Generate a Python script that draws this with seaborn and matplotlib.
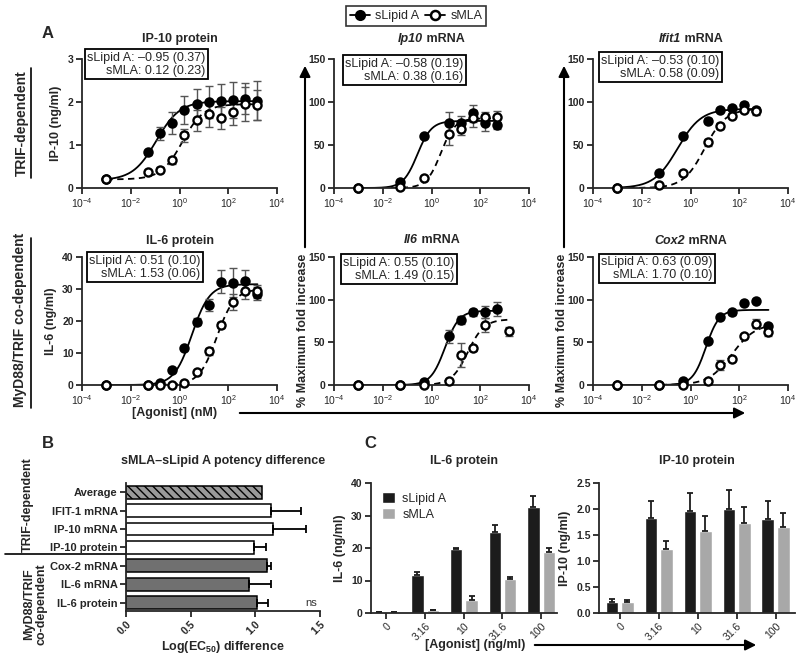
import numpy as np
import pandas as pd
import matplotlib
matplotlib.use("Agg")
import matplotlib.pyplot as plt
import seaborn as sns
from matplotlib.lines import Line2D
from matplotlib.patches import Patch, FancyArrowPatch
from matplotlib.offsetbox import TextArea, HPacker, AnchoredOffsetbox

# ---- data -------------------------------------------------------------
# doses in nM; the first entry is the untreated sample shown at 10^-3
dose_protein = [0.001, 0.05, 0.158, 0.5, 1.58, 5, 15.8, 50, 158, 500, 1580]
dose_mrna = [0.001, 0.05, 0.5, 5, 15.8, 50, 158, 500, 1580]

# A, IP-10 protein (ng/ml)
ip10p_lipid = [0.2, 0.83, 1.27, 1.51, 1.82, 1.96, 2.0, 2.02, 2.04, 2.08, 2.03]
ip10p_lipid_err = [0.02, 0.06, 0.15, 0.25, 0.33, 0.35, 0.37, 0.4, 0.42, 0.37, 0.45]
ip10p_mla = [0.2, 0.38, 0.43, 0.64, 1.23, 1.57, 1.72, 1.63, 1.77, 1.96, 1.94]
ip10p_mla_err = [0.02, 0.04, 0.05, 0.08, 0.15, 0.25, 0.3, 0.25, 0.3, 0.4, 0.35]

# A, Ip10 mRNA (% max)
ip10m_lipid = [0, 6.5, 60, 76, 76, 87, 76, 73, np.nan]
ip10m_lipid_err = [0, 2, 2, 12, 8, 10, 10, 4, np.nan]
ip10m_mla = [0, 1, 12, 63, 69, 81, 83, 83, np.nan]
ip10m_mla_err = [0, 1, 2, 13, 7, 10, 5, 7, np.nan]

# A, Ifit1 mRNA (% max)
ifit1_lipid = [0, 17, 61, 78, 91, 93, 97, 91, np.nan]
ifit1_lipid_err = [0, 2, 3, 3, 2, 2, 3, 3, np.nan]
ifit1_mla = [0, 3, 18, 53, 72, 84, 91, 89, np.nan]
ifit1_mla_err = [0, 1, 2, 4, 3, 3, 3, 4, np.nan]

# A, IL-6 protein (ng/ml)
il6p_lipid = [0, 0, 0.7, 4.8, 11.5, 19.8, 25, 32.3, 32, 32.5, 28.5]
il6p_lipid_err = [0, 0, 0.3, 0.5, 0.5, 1, 2, 3.5, 4.5, 3.5, 2]
il6p_mla = [0, 0, 0, 0, 0.7, 4, 10.5, 18.8, 26, 29.4, 29.3]
il6p_mla_err = [0, 0, 0, 0, 0.3, 0.5, 1, 1, 2.5, 2.5, 2]

# A, Il6 mRNA (% max)
il6m_lipid = [0, 0, 4, 57, 76, 85, 85, 89, np.nan]
il6m_lipid_err = [0, 0, 1, 8, 5, 4, 7, 8, np.nan]
il6m_mla = [0, 0, 0, 5, 35, 43, 70, np.nan, 63]
il6m_mla_err = [0, 0, 0, 1, 14, 3, 8, np.nan, 5]

# A, Cox2 mRNA (% max)
cox2_lipid = [0, 0, 5, 52, 80, 85, 96, 99, 69]
cox2_lipid_err = [0, 0, 1, 2, 2, 3, 2, 2, 2]
cox2_mla = [0, 0, 0, 5, 23, 31, 57, 72, 62]
cox2_mla_err = [0, 0, 0, 1, 6, 2, 2, 5, 4]

# four-parameter fits: bottom, top, logEC50, hill
ip10p_fit = [[0.18, 2.02, -0.95, 0.9], [0.2, 1.95, 0.12, 1.0]]
ip10m_fit = [[0, 78, -0.58, 1.5], [0, 81, 0.38, 1.5]]
ifit1_fit = [[0, 92, -0.53, 0.9], [0, 92, 0.58, 1.0]]
il6p_fit = [[0, 31.5, 0.51, 1.2], [0, 30, 1.53, 1.2]]
il6m_fit = [[0, 87, 0.55, 1.5], [0, 77, 1.49, 1.3]]
cox2_fit = [[0, 88, 0.63, 1.6], [0, 72, 1.70, 0.9]]

ec50_labels = [
    "sLipid A: \u20130.95 (0.37)\nsMLA: 0.12 (0.23)",
    "sLipid A: \u20130.58 (0.19)\nsMLA: 0.38 (0.16)",
    "sLipid A: \u20130.53 (0.10)\nsMLA: 0.58 (0.09)",
    "sLipid A: 0.51 (0.10)\nsMLA: 1.53 (0.06)",
    "sLipid A: 0.55 (0.10)\nsMLA: 1.49 (0.15)",
    "sLipid A: 0.63 (0.09)\nsMLA: 1.70 (0.10)",
]

# B, potency difference
potency_names = ["Average", "IFIT-1 mRNA", "IP-10 mRNA", "IP-10 protein",
                 "Cox-2 mRNA", "IL-6 mRNA", "IL-6 protein"]
potency_diff = [1.05, 1.12, 1.14, 0.99, 1.09, 0.95, 1.01]
potency_err = [np.nan, 0.23, 0.25, 0.09, 0.03, 0.17, 0.09]

# C, single doses (ng/ml)
dose_c = ["0", "3.16", "10", "31.6", "100"]
il6c_lipid = [0.2, 11.6, 19.8, 25.0, 32.5]
il6c_lipid_err = [0.05, 0.9, 0.3, 2.0, 3.4]
il6c_mla = [0.2, 0.8, 4.1, 10.6, 18.9]
il6c_mla_err = [0.05, 0.2, 1.2, 0.5, 1.0]
ip10c_lipid = [0.21, 1.83, 1.97, 2.0, 1.81]
ip10c_lipid_err = [0.05, 0.32, 0.33, 0.37, 0.35]
ip10c_mla = [0.21, 1.24, 1.58, 1.73, 1.66]
ip10c_mla_err = [0.04, 0.15, 0.28, 0.3, 0.27]

# ---- style ------------------------------------------------------------
sns.set_theme(style="ticks")
plt.rcParams["font.family"] = ["Liberation Sans", "DejaVu Sans"]
plt.rcParams.update({
    "axes.linewidth": 1.3,
    "xtick.major.width": 1.3, "ytick.major.width": 1.3,
    "xtick.major.size": 4, "ytick.major.size": 4,
    "xtick.major.pad": 2, "ytick.major.pad": 2,
    "xtick.labelsize": 7.5, "ytick.labelsize": 7.5,
    "mathtext.default": "regular",
})

W, H = 800, 658
fig = plt.figure(figsize=(8, 6.58), dpi=100)


def add_ax(left, top, right, bottom):
    return fig.add_axes([left / W, 1 - bottom / H, (right - left) / W, (bottom - top) / H])


def logistic(lx, p):
    bottom, top, logec, hill = p
    return bottom + (top - bottom) / (1 + 10 ** ((logec - lx) * hill))


def title_parts(ax, parts, y_px):
    boxes = [TextArea(t, textprops=dict(fontweight="bold", fontstyle=s, fontsize=9)) for t, s in parts]
    pack = HPacker(children=boxes, align="baseline", pad=0, sep=0)
    x0 = ax.get_position().x0 + ax.get_position().width / 2
    box = AnchoredOffsetbox(loc="lower center", child=pack, pad=0, borderpad=0, frameon=False,
                            bbox_to_anchor=(x0, 1 - y_px / H), bbox_transform=fig.transFigure)
    fig.add_artist(box)


def dose_panel(ax, doses, lipid, lipid_err, mla, mla_err, fits, ymax, ystep):
    ax.set_xscale("log")
    series = [(lipid, lipid_err, fits[0], "black", "-"),
              (mla, mla_err, fits[1], "white", (0, (3.5, 2.5)))]
    frames = []
    for vals, errs, fit, face, ls in series:
        d = pd.DataFrame({"dose": doses, "resp": vals, "err": errs}).dropna()
        lx = np.linspace(np.log10(d.dose.min()), np.log10(d.dose.max()), 200)
        curve = pd.DataFrame({"dose": 10 ** lx, "resp": logistic(lx, fit)})
        sns.lineplot(data=curve, x="dose", y="resp", color="black", lw=1.3,
                     linestyle=ls, ax=ax, zorder=2)
        frames.append((d, face))
    for d, face in frames:
        ax.errorbar(d.dose, d.resp, yerr=d.err, fmt="none", ecolor="#555555",
                    elinewidth=1, capsize=3, capthick=1, zorder=3)
    for d, face in frames:
        sns.scatterplot(data=d, x="dose", y="resp", color=face, edgecolor="black",
                        linewidth=1.7, s=34, ax=ax, zorder=4, clip_on=False)
    ax.set_xlim(1e-4, 1e4)
    ax.set_xticks([1e-4, 1e-2, 1, 1e2, 1e4])
    ax.xaxis.set_minor_locator(matplotlib.ticker.NullLocator())
    ax.set_ylim(0, ymax)
    ax.set_yticks(np.arange(0, ymax + ystep / 2, ystep))
    for lab in ax.get_yticklabels():
        lab.set_fontweight("bold")
    ax.set_xlabel("")
    ax.set_ylabel("")
    sns.despine(ax=ax)


# ---- panel A ----------------------------------------------------------
col_left = [82, 334, 593]
row_tb = [(59, 188), (257, 385)]
panels = [
    (dose_protein, ip10p_lipid, ip10p_lipid_err, ip10p_mla, ip10p_mla_err, ip10p_fit, 3, 1),
    (dose_mrna, ip10m_lipid, ip10m_lipid_err, ip10m_mla, ip10m_mla_err, ip10m_fit, 150, 50),
    (dose_mrna, ifit1_lipid, ifit1_lipid_err, ifit1_mla, ifit1_mla_err, ifit1_fit, 150, 50),
    (dose_protein, il6p_lipid, il6p_lipid_err, il6p_mla, il6p_mla_err, il6p_fit, 40, 10),
    (dose_mrna, il6m_lipid, il6m_lipid_err, il6m_mla, il6m_mla_err, il6m_fit, 150, 50),
    (dose_mrna, cox2_lipid, cox2_lipid_err, cox2_mla, cox2_mla_err, cox2_fit, 150, 50),
]
titles = [
    [("IP-10 protein", "normal")],
    [("Ip10", "italic"), (" mRNA", "normal")],
    [("Ifit1", "italic"), (" mRNA", "normal")],
    [("IL-6 protein", "normal")],
    [("Il6", "italic"), (" mRNA", "normal")],
    [("Cox2", "italic"), (" mRNA", "normal")],
]
title_y = [45, 45, 45, 247, 246, 247]
box_pos = [(84, 49), (342, 55), (598, 52), (86, 252), (340, 254), (598, 253)]

axes_a = []
for i, p in enumerate(panels):
    top, bottom = row_tb[i // 3]
    left = col_left[i % 3]
    ax = add_ax(left, top, left + 195, bottom)
    dose_panel(ax, *p)
    title_parts(ax, titles[i], title_y[i])
    bx, by = box_pos[i]
    fig.text((bx + 3) / W, 1 - (by + 3) / H, ec50_labels[i], ha="left", va="top",
             multialignment="right", fontsize=9, linespacing=1.1, zorder=10,
             bbox=dict(boxstyle="square,pad=0.2", fc="white", ec="black", lw=1.3))
    axes_a.append(ax)

axes_a[0].set_ylabel("IP-10 (ng/ml)", fontweight="bold", fontsize=9, labelpad=4)
axes_a[3].set_ylabel("IL-6 (ng/ml)", fontweight="bold", fontsize=9, labelpad=4)

# shared legend
handles = [Line2D([], [], color="black", marker="o", ms=6.5, lw=1.3, mfc="black", mew=1.5),
           Line2D([], [], color="black", marker="o", ms=6.5, lw=1.3, mfc="white", mew=1.8)]
leg = fig.legend(handles, ["sLipid A", "sMLA"], ncol=2, loc="center",
                 bbox_to_anchor=(416 / W, 1 - 16 / H), frameon=True, fancybox=False,
                 edgecolor="black", fontsize=9, handlelength=1.6, columnspacing=0.5,
                 handletextpad=0.4, borderpad=0.3)
leg.get_frame().set_linewidth(1.2)


def fig_arrow(p0, p1):
    fig.add_artist(FancyArrowPatch((p0[0] / W, 1 - p0[1] / H), (p1[0] / W, 1 - p1[1] / H),
                                   transform=fig.transFigure, arrowstyle="-|>",
                                   mutation_scale=16, lw=1.5, color="black"))


for x in (303, 562):
    fig.text(x / W, 1 - 330 / H, "% Maximum fold increase", rotation=90, ha="center",
             va="center", fontweight="bold", fontsize=9)
    fig_arrow((x + 2, 250), (x + 2, 63))

fig.text(175 / W, 1 - 413 / H, "[Agonist] (nM)", ha="center", va="center",
         fontweight="bold", fontsize=9)
fig_arrow((237, 413), (748, 413))

fig.text(22 / W, 1 - 123 / H, "TRIF-dependent", rotation=90, ha="center", va="center",
         fontweight="bold", fontsize=10)
fig.add_artist(Line2D([31 / W, 31 / W], [1 - 68 / H, 1 - 178 / H], color="black", lw=1.2))
fig.text(20 / W, 1 - 320 / H, "MyD88/TRIF co-dependent", rotation=90, ha="center",
         va="center", fontweight="bold", fontsize=10)
fig.add_artist(Line2D([31 / W, 31 / W], [1 - 238 / H, 1 - 408 / H], color="black", lw=1.2))

# ---- panel B ----------------------------------------------------------
axb = add_ax(126, 483, 320, 611)
bar_colors = ["#9a9a9a", "white", "white", "white", "#707070", "#707070", "#707070"]
dfb = pd.DataFrame({"name": potency_names, "diff": potency_diff, "err": potency_err})
sns.barplot(data=dfb, x="diff", y="name", hue="name", palette=bar_colors, legend=False,
            width=0.7, edgecolor="black", linewidth=1.1, saturation=1, ax=axb)
axb.patches[0].set_hatch("\\\\\\\\")
eb = dfb.dropna()
axb.errorbar(eb["diff"], eb.index, xerr=[np.zeros(len(eb)), eb["err"]], fmt="none",
             ecolor="black", elinewidth=1.3, capsize=3, capthick=1.3)
axb.set_xlim(0, 1.5)
axb.set_ylim(6.45, -0.5)
axb.set_xticks([0, 0.5, 1.0, 1.5])
axb.set_xticklabels(["0.0", "0.5", "1.0", "1.5"], rotation=45, ha="right",
                    rotation_mode="anchor", fontweight="bold")
for lab in axb.get_yticklabels():
    lab.set_fontweight("bold")
    lab.set_fontsize(8)
axb.set_ylabel("")
axb.set_xlabel("Log(EC$_{50}$) difference", fontweight="bold", fontsize=9, labelpad=2)
axb.set_title("sMLA\u2013sLipid A potency difference", fontweight="bold", fontsize=9, pad=14)
axb.text(1.43, 6, "ns", ha="center", va="center", fontsize=8, color="#333333")
sns.despine(ax=axb)

fig.text(28 / W, 1 - 505 / H, "TRIF-dependent", rotation=90, ha="center", va="center",
         fontweight="bold", fontsize=9)
fig.text(35 / W, 1 - 604 / H, "MyD88/TRIF\nco-dependent", rotation=90, ha="center",
         va="center", fontweight="bold", fontsize=9, linespacing=1.0)
fig.add_artist(Line2D([5 / W, 125 / W], [1 - 554 / H, 1 - 554 / H], color="black", lw=1.2))

# ---- panel C ----------------------------------------------------------
c_palette = {"sLipid A": "#1c1c1c", "sMLA": "#a8a8a8"}


def dose_bars(ax, lipid, lipid_err, mla, mla_err, xlim):
    d = pd.DataFrame({
        "dose": dose_c * 2,
        "agonist": ["sLipid A"] * len(dose_c) + ["sMLA"] * len(dose_c),
        "value": lipid + mla,
        "err": lipid_err + mla_err,
    })
    sns.barplot(data=d, x="dose", y="value", hue="agonist", palette=c_palette,
                width=0.8, gap=0.2, saturation=1, legend=False, ax=ax)
    for j, ag in enumerate(["sLipid A", "sMLA"]):
        sub = d[d.agonist == ag]
        xs = np.arange(len(dose_c)) + (-0.2 if j == 0 else 0.2)
        ax.errorbar(xs, sub["value"], yerr=[np.zeros(len(sub)), sub["err"]], fmt="none",
                    ecolor="#1c1c1c", elinewidth=1.3, capsize=2.5, capthick=1.3)
    ax.set_xlim(*xlim)
    ax.set_xticks(range(len(dose_c)))
    ax.set_xticklabels(dose_c, rotation=45, ha="right", rotation_mode="anchor")
    ax.set_xlabel("")
    sns.despine(ax=ax)


axc1 = add_ax(371, 483, 557, 613)
dose_bars(axc1, il6c_lipid, il6c_lipid_err, il6c_mla, il6c_mla_err, (-0.4, 4.41))
axc1.set_ylim(0, 40)
axc1.set_yticks([0, 10, 20, 30, 40])
for lab in axc1.get_yticklabels():
    lab.set_fontweight("bold")
axc1.set_ylabel("IL-6 (ng/ml)", fontweight="bold", fontsize=9, labelpad=4)
axc1.set_title("IL-6 protein", fontweight="bold", fontsize=9, pad=14)
axc1.legend([Patch(facecolor=c_palette["sLipid A"]), Patch(facecolor=c_palette["sMLA"])],
            ["sLipid A", "sMLA"], loc="upper left", bbox_to_anchor=(0.0, 1.02),
            frameon=False, fontsize=9, handlelength=1.0, handleheight=1.0,
            handletextpad=0.6, labelspacing=0.3)

axc2 = add_ax(599, 483, 795, 613)
dose_bars(axc2, ip10c_lipid, ip10c_lipid_err, ip10c_mla, ip10c_mla_err, (-0.53, 4.5))
axc2.set_ylim(0, 2.5)
axc2.set_yticks([0, 0.5, 1.0, 1.5, 2.0, 2.5])
axc2.set_yticklabels(["0.0", "0.5", "1.0", "1.5", "2.0", "2.5"], fontweight="bold")
axc2.set_ylabel("IP-10 (ng/ml)", fontweight="bold", fontsize=9, labelpad=4)
axc2.set_title("IP-10 protein", fontweight="bold", fontsize=9, pad=14)

fig.text(475 / W, 1 - 645 / H, "[Agonist] (ng/ml)", ha="center", va="center",
         fontweight="bold", fontsize=9)
fig_arrow((532, 645), (759, 645))

# panel letters
for letter, (x, y) in zip("ABC", [(48, 33), (48, 443), (370, 443)]):
    fig.text(x / W, 1 - y / H, letter, ha="center", va="center", fontweight="bold", fontsize=12)

fig.savefig("out.png", dpi=100)
print("Saved out.png")
